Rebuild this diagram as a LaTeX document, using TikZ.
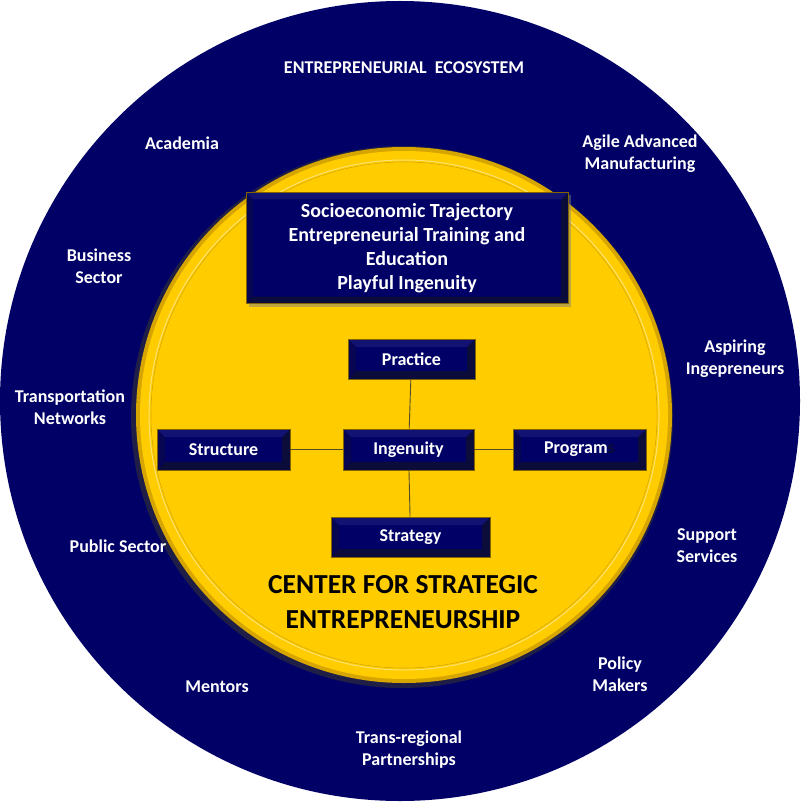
\documentclass[tikz,border=0pt]{standalone}
\usepackage{fontspec}
\setmainfont{Carlito}
\usetikzlibrary{shadows}
\definecolor{navy}{RGB}{0,0,102}
\definecolor{navydk}{RGB}{12,12,58}
\definecolor{navymd}{RGB}{6,6,82}
\definecolor{navylt}{RGB}{18,18,115}
\definecolor{gold}{RGB}{255,204,0}
\definecolor{golddk}{RGB}{215,165,0}
\definecolor{goldlt}{RGB}{255,225,110}
\definecolor{linecol}{RGB}{90,75,40}
\tikzset{
  outerlabel/.style={text=white, align=center, font=\bfseries\fontsize{18}{22}\selectfont},
  bevelbox/.style={fill=navy, draw=golddk!60!black, line width=0.6pt, inner sep=0pt,
    text=white, font=\bfseries\fontsize{18}{24}\selectfont, align=center,
    path picture={
      \fill[navydk] (path picture bounding box.south west) -- (path picture bounding box.south east)
        -- ([shift={(-#1,#1)}]path picture bounding box.south east) -- ([shift={(#1,#1)}]path picture bounding box.south west) -- cycle;
      \fill[navydk] (path picture bounding box.south east) -- (path picture bounding box.north east)
        -- ([shift={(-#1,-#1)}]path picture bounding box.north east) -- ([shift={(-#1,#1)}]path picture bounding box.south east) -- cycle;
      \fill[navymd] (path picture bounding box.south west) -- (path picture bounding box.north west)
        -- ([shift={(#1,-#1)}]path picture bounding box.north west) -- ([shift={(#1,#1)}]path picture bounding box.south west) -- cycle;
      \fill[navylt] (path picture bounding box.north west) -- (path picture bounding box.north east)
        -- ([shift={(-#1,-#1)}]path picture bounding box.north east) -- ([shift={(#1,-#1)}]path picture bounding box.north west) -- cycle;
    }},
  conn/.style={draw=linecol, line width=0.9pt}
}
\begin{document}
\begin{tikzpicture}[x=1pt,y=-1pt]
\useasboundingbox (0,0) rectangle (801,802);
% outer ring
\fill[navy] (400,401) circle (400);
% inner yellow disc
\fill[black!80, opacity=0.6] (402,417) circle (271);
\fill[golddk] (404,415) circle (268);
\fill[gold] (404,415) circle (264);
\draw[goldlt, line width=1pt] (404,415) circle (255);
\draw[golddk, line width=0.6pt] (404,415) circle (253);
\fill[gold] (404,415) circle (252.5);

% top box
\node[bevelbox=7pt, font=\bfseries\fontsize{20}{24}\selectfont, minimum width=322pt, minimum height=111pt, drop shadow={shadow xshift=3pt, shadow yshift=-3pt, opacity=0.5}] (top) at (407,248)
  {Socioeconomic Trajectory\\Entrepreneurial Training and\\Education\\Playful Ingenuity};

% small boxes
\node[bevelbox=8pt, minimum width=127pt, minimum height=40pt] (practice) at (411.5,359) {Practice};
\node[bevelbox=8pt, minimum width=131pt, minimum height=41pt] (ingenuity) at (408.5,449.5) {Ingenuity};
\node[bevelbox=8pt, minimum width=133pt, minimum height=41pt] (structure) at (223.5,449.5) {Structure};
\node[bevelbox=8pt, minimum width=133pt, minimum height=41pt] (program) at (579.5,449.5) {Program\textcolor{navydk}{s}};
\node[bevelbox=8pt, minimum width=159pt, minimum height=40pt] (strategy) at (410.5,537) {Strategy};

\draw[conn] (practice) -- (ingenuity);
\draw[conn] (ingenuity) -- (strategy);
\draw[conn] (structure) -- (ingenuity);
\draw[conn] (ingenuity) -- (program);

% center title
\node[text=black, align=center, font=\bfseries\fontsize{27.5}{35}\selectfont] (title) at (403,602)
  {CENTER FOR STRATEGIC\\ENTREPRENEURSHIP};

% outer labels
\node[outerlabel, font=\bfseries\fontsize{18}{20}\selectfont] (eco) at (404,68) {ENTREPRENEURIAL\ \ ECOSYSTEM};
\node[outerlabel] (academia) at (182,143) {Academia};
\node[outerlabel] (agile) at (640,154) {Agile Advanced\\Manufacturing};
\node[outerlabel] (business) at (99,266) {Business\\Sector};
\node[outerlabel] (aspiring) at (735,359) {Aspiring\\Ingepreneurs};
\node[outerlabel] (transport) at (70,407) {Transportation\\Networks};
\node[outerlabel] (support) at (707,546) {Support\\Services};
\node[outerlabel] (public) at (118,546) {Public Sector};
\node[outerlabel] (policy) at (620,674) {Policy\\Makers};
\node[outerlabel] (mentors) at (217,687) {Mentors};
\node[outerlabel] (trans) at (409,750) {Trans-regional\\Partnerships};
\end{tikzpicture}
\end{document}
